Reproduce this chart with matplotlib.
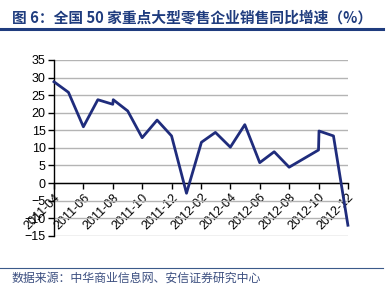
import numpy as np
import pandas as pd
import matplotlib
matplotlib.use("Agg")
import matplotlib.pyplot as plt
import matplotlib.dates as mdates

plt.rcParams['font.family'] = ['Liberation Sans', 'Noto Sans CJK SC', 'DejaVu Sans']

# monthly data (two months carry a second point)
dates = ["2011-04-01", "2011-05-01", "2011-06-01", "2011-07-01", "2011-08-01", "2011-08-02",
         "2011-09-01", "2011-10-01", "2011-11-01", "2011-12-01", "2012-01-01", "2012-02-01",
         "2012-03-01", "2012-04-01", "2012-05-01", "2012-06-01", "2012-07-01", "2012-08-01",
         "2012-10-01", "2012-10-02", "2012-11-01", "2012-12-01"]
growth = [28.8, 25.8, 16.0, 23.7, 22.4, 23.7,
          20.5, 12.9, 17.9, 13.4, -2.9, 11.6,
          14.4, 10.2, 16.6, 5.8, 8.9, 4.5,
          9.4, 14.8, 13.4, -12.0]
tick_dates = ["2011-04", "2011-06", "2011-08", "2011-10", "2011-12", "2012-02",
              "2012-04", "2012-06", "2012-08", "2012-10", "2012-12"]
yticks = [-15, -10, -5, 0, 5, 10, 15, 20, 25, 30, 35]

title = "图 6：全国 50 家重点大型零售企业销售同比增速（%）"
source = "数据来源：中华商业信息网、安信证券研究中心"

x = pd.to_datetime(dates)

fig = plt.figure(figsize=(3.87, 2.94), dpi=100)
ax = fig.add_axes([0.1395, 0.198, 0.7595, 0.598])

ax.plot(x, growth, color="#1f2c7c", linewidth=2.0, zorder=3, clip_on=False)

ax.set_ylim(-15, 35)
ax.set_yticks(yticks)
ax.set_xlim(pd.Timestamp("2011-04-01"), pd.Timestamp("2012-12-01"))
ax.set_xticks(pd.to_datetime(tick_dates))
ax.xaxis.set_major_formatter(mdates.DateFormatter("%Y-%m"))

ax.yaxis.grid(True, color="#b4b4b4", linewidth=1.0)
ax.set_axisbelow(True)
for s in ["top", "right"]:
    ax.spines[s].set_visible(False)
ax.spines["bottom"].set_position(("data", 0))
ax.spines["bottom"].set_linewidth(1.0)
ax.spines["left"].set_linewidth(1.0)
ax.tick_params(axis="both", direction="out", length=4, width=1, labelsize=9, pad=2)
for lab in ax.get_xticklabels():
    lab.set_rotation(45)
    lab.set_ha("right")
    lab.set_va("top")
    lab.set_rotation_mode("anchor")

fig.text(0.03, 0.94, title, family=['Noto Sans CJK SC'], weight='bold',
         fontsize=10.6, color="#1f3c7e", va="center", ha="left")
fig.add_artist(plt.Line2D([0, 0.99], [0.9, 0.9], transform=fig.transFigure,
                          color="#1f3c7e", linewidth=2.2))
fig.add_artist(plt.Line2D([0, 0.99], [0.089, 0.089], transform=fig.transFigure,
                          color="#3b5a8a", linewidth=0.8))
fig.text(0.03, 0.054, source, family=['Noto Sans CJK SC'], fontsize=8.6,
         color="#3c4f80", va="center", ha="left")

fig.savefig("out.png", dpi=100)
